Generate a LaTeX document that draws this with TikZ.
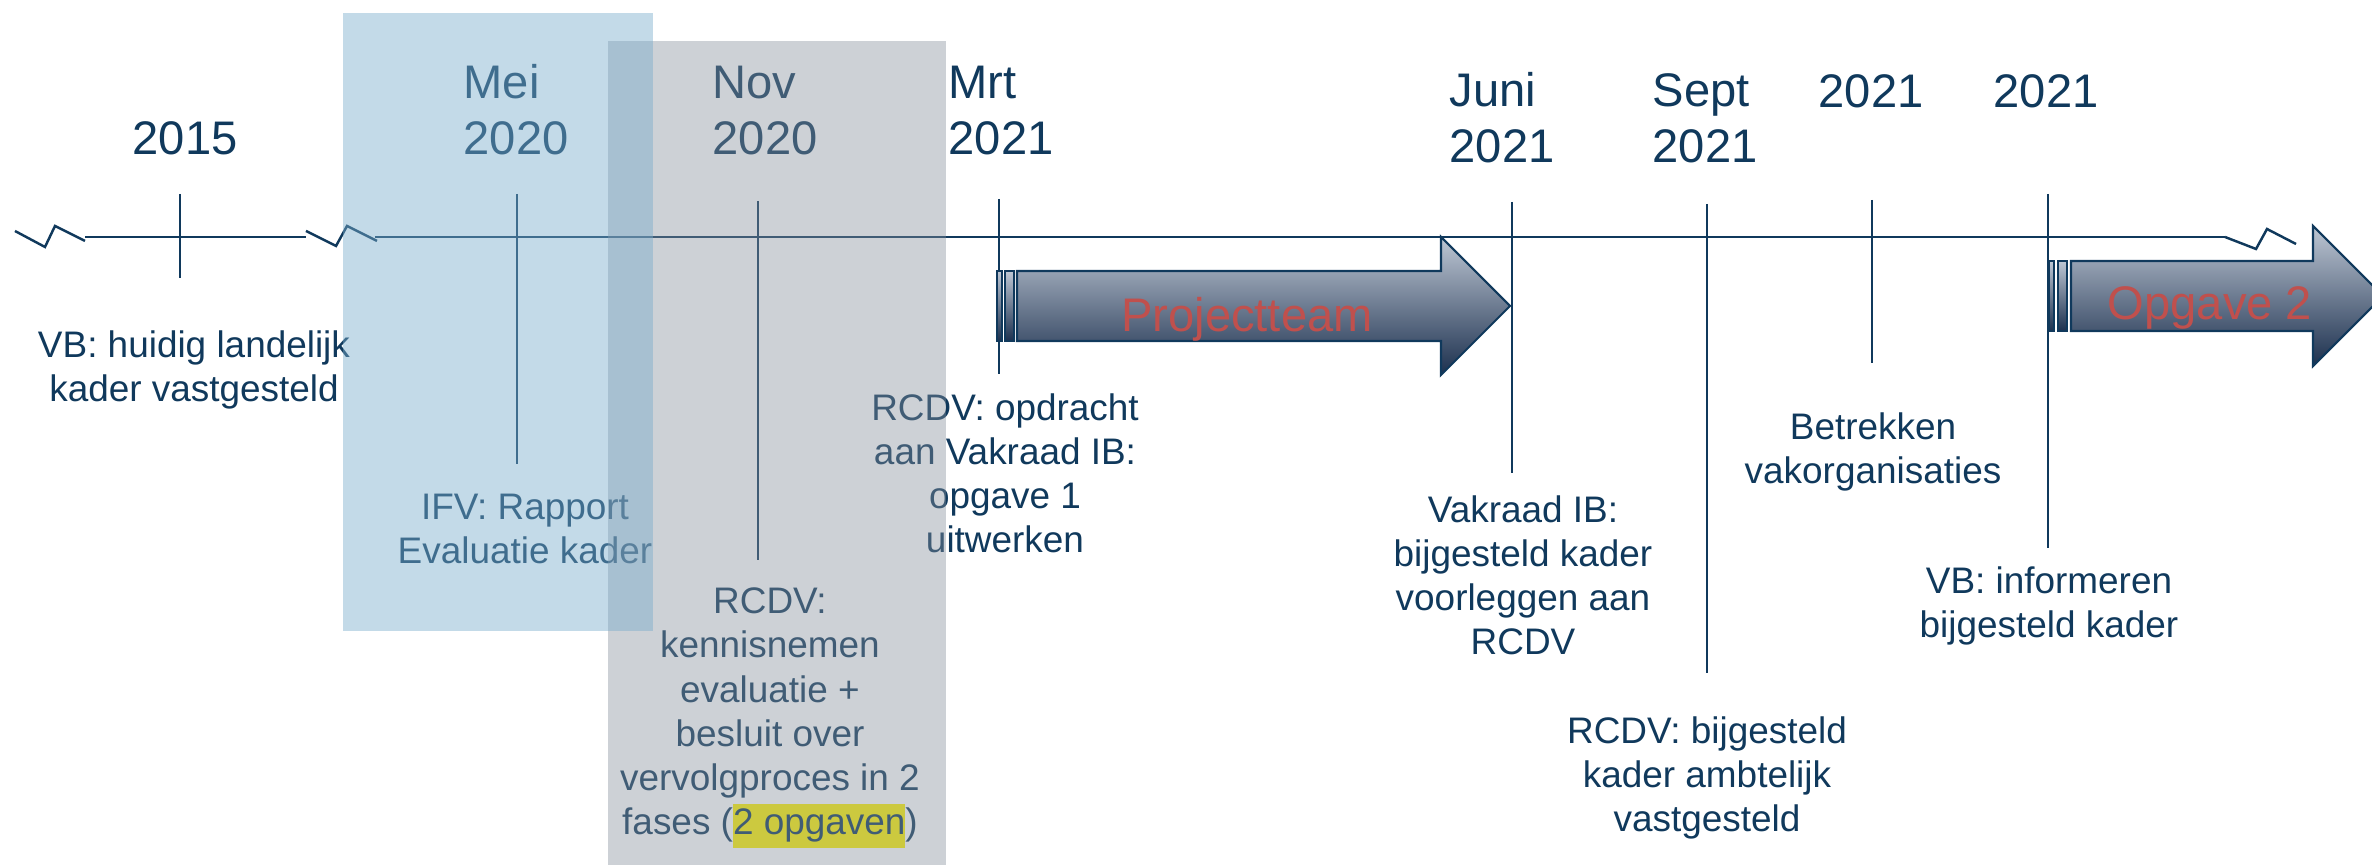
\documentclass[tikz,border=0pt]{standalone}
\usepackage{fontspec}
\setmainfont{Liberation Sans}
\definecolor{navy}{RGB}{16,57,92}
\definecolor{pijltop}{RGB}{190,199,212}
\definecolor{pijlbodem}{RGB}{28,48,78}
\definecolor{vakblauw}{RGB}{122,173,204}
\definecolor{vakgrijs}{RGB}{133,143,155}
\definecolor{rood}{RGB}{192,80,77}
\newcommand\geel[1]{{\setlength{\fboxsep}{0pt}\colorbox{yellow}{\strut #1}}}
\begin{document}
\begin{tikzpicture}[x=0.01cm, y=-0.01cm,
  lijn/.style={draw=navy, line width=0.7pt},
  datum/.style={anchor=base west, inner sep=0, align=left, text=navy, font=\fontsize{13.4}{16.2}\selectfont},
  tekst/.style={anchor=base, inner sep=0, align=center, text=navy, font=\fontsize{10.5}{12.6}\selectfont},
  pijl/.style={draw=navy, line width=0.6pt, top color=pijltop, bottom color=pijlbodem},
  fase/.style={anchor=base, inner sep=0, text=rood, font=\fontsize{13.4}{16}\selectfont}]
\useasboundingbox (0,0) rectangle (2372,865);
\coordinate (as0) at (85,237);
\coordinate (as1) at (306,237);
\coordinate (as2) at (375,237);
\coordinate (as3) at (2225,237);
\draw[lijn](as0) -- (as1);
\draw[lijn](as2) -- (as3);
\draw[lijn] (15,231) -- (45,247) -- (55,226) -- (85,241);
\draw[lijn] (306,231) -- (336,246) -- (347,226) -- (377,241);
\draw[lijn] (as3) -- (2256,249) -- (2267,229) -- (2296,244);
\coordinate (tk1) at (180,194);
\coordinate (tk1b) at (180,278);
\draw[lijn](tk1) -- (tk1b);
\coordinate (tk2) at (517,194);
\coordinate (tk2b) at (517,464);
\draw[lijn](tk2) -- (tk2b);
\coordinate (tk3) at (758,201);
\coordinate (tk3b) at (758,560);
\draw[lijn](tk3) -- (tk3b);
\coordinate (tk4) at (999,199);
\coordinate (tk4b) at (999,374);
\draw[lijn](tk4) -- (tk4b);
\coordinate (tk5) at (1512,202);
\coordinate (tk5b) at (1512,473);
\draw[lijn](tk5) -- (tk5b);
\coordinate (tk6) at (1707,204);
\coordinate (tk6b) at (1707,673);
\draw[lijn](tk6) -- (tk6b);
\coordinate (tk7) at (1872,200);
\coordinate (tk7b) at (1872,363);
\draw[lijn](tk7) -- (tk7b);
\coordinate (tk8) at (2048,194);
\coordinate (tk8b) at (2048,548);
\draw[lijn](tk8) -- (tk8b);
\path[pijl] (997,271) rectangle (1002,341);
\path[pijl] (1005,271) rectangle (1014,341);
\path[pijl] (1017,271) -- (1441,271) -- (1441,237) -- (1510,306) -- (1441,375) -- (1441,341) -- (1017,341) -- cycle;
\node[fase] (team) at (1247,332) {Projectteam};
\path[pijl] (2049,261) rectangle (2054,331);
\path[pijl] (2058,261) rectangle (2067,331);
\path[pijl] (2071,261) -- (2313,261) -- (2313,226) -- (2383,296) -- (2313,366) -- (2313,331) -- (2071,331) -- cycle;
\node[fase] (opg2) at (2210,320) {Opgave 2};
\node[datum] (dt1) at (132,155) {2015};
\node[datum] (dt2) at (463,155) {Mei\\2020};
\node[datum] (dt3) at (712,155) {Nov\\2020};
\node[datum] (dt4) at (948,155) {Mrt\\2021};
\node[datum] (dt5) at (1449,163) {Juni\\2021};
\node[datum] (dt6) at (1652,163) {Sept\\2021};
\node[datum] (dt7) at (1818,108) {2021};
\node[datum] (dt8) at (1993,108) {2021};
\node[tekst] (lb1) at (194,402) {VB: huidig landelijk\\kader vastgesteld};
\node[tekst] (lb2) at (525,564) {IFV: Rapport\\Evaluatie kader};
\node[tekst] (lb3) at (770,835) {RCDV:\\kennisnemen\\evaluatie +\\besluit over\\vervolgproces in 2\\fases (\geel{2 opgaven})};
\node[tekst] (lb4) at (1005,553) {RCDV: opdracht\\aan Vakraad IB:\\opgave 1\\uitwerken};
\node[tekst] (lb5) at (1523,655) {Vakraad IB:\\bijgesteld kader\\voorleggen aan\\RCDV};
\node[tekst] (lb6) at (1707,832) {RCDV: bijgesteld\\kader ambtelijk\\vastgesteld};
\node[tekst] (lb7) at (1873,484) {Betrekken\\vakorganisaties};
\node[tekst] (lb8) at (2049,638) {VB: informeren\\bijgesteld kader};
\fill[vakgrijs, fill opacity=0.41] (608,41) rectangle (946,865);
\fill[vakblauw, fill opacity=0.45] (343,13) rectangle (653,631);
\end{tikzpicture}
\end{document}
